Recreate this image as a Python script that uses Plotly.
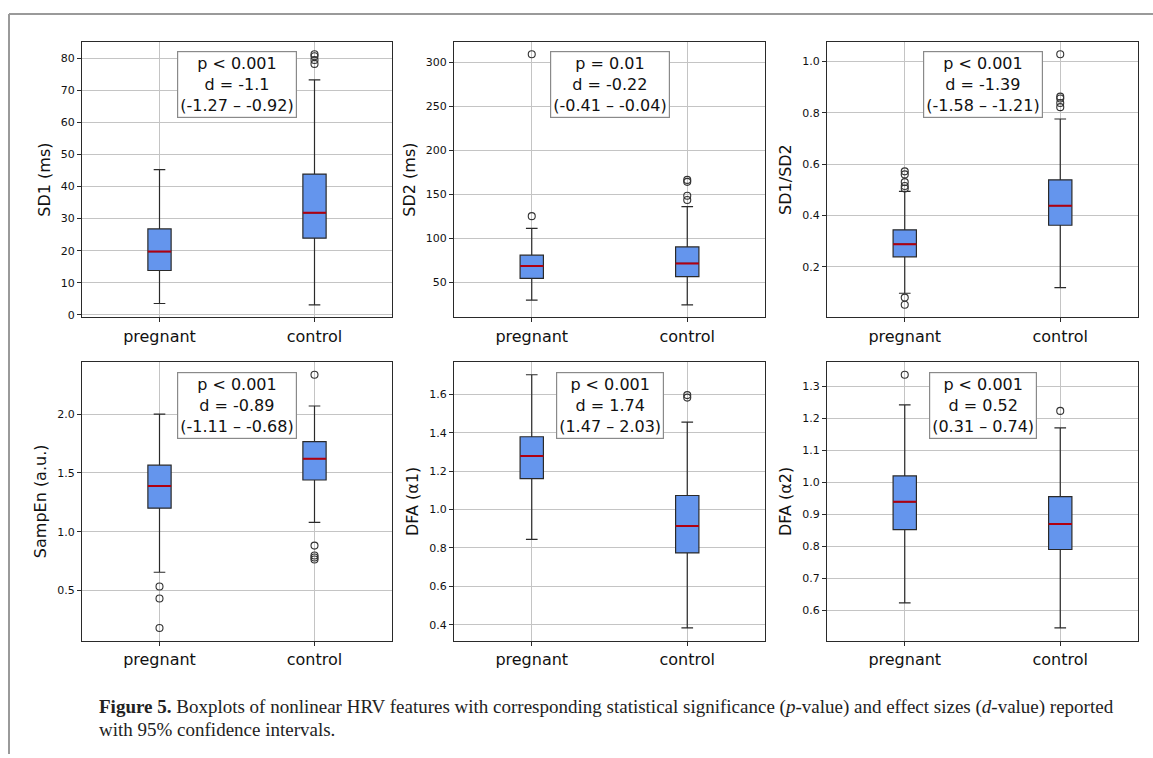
import plotly.graph_objects as go

W, H = 1153, 758

categories = ["pregnant", "control"]
y_titles = ["SD1 (ms)", "SD2 (ms)", "SD1/SD2", "SampEn (a.u.)", "DFA (α1)", "DFA (α2)"]

# box statistics per group: [lower whisker, q1, median, q3, upper whisker]
sd1_pregnant = [3.5, 13.8, 19.7, 26.8, 45.3]
sd1_control = [3.1, 23.9, 31.8, 43.9, 73.3]
sd1_out_pregnant = []
sd1_out_control = [78.3, 79.5, 80.7, 81.3]

sd2_pregnant = [30.1, 54.9, 68.8, 81.2, 111.6]
sd2_control = [24.8, 56.8, 71.8, 90.5, 136.3]
sd2_out_pregnant = [125.5, 309.4]
sd2_out_control = [143.8, 148.7, 164.5, 166.7]

ratio_pregnant = [0.097, 0.239, 0.288, 0.344, 0.494]
ratio_control = [0.119, 0.362, 0.438, 0.539, 0.776]
ratio_out_pregnant = [0.052, 0.080, 0.505, 0.515, 0.530, 0.560, 0.572]
ratio_out_control = [0.822, 0.838, 0.856, 0.863, 1.028]

sampen_pregnant = [0.655, 1.200, 1.389, 1.566, 2.000]
sampen_control = [1.079, 1.440, 1.622, 1.766, 2.070]
sampen_out_pregnant = [0.181, 0.432, 0.534]
sampen_out_control = [0.763, 0.780, 0.797, 0.882, 2.336]

dfa1_pregnant = [0.844, 1.161, 1.279, 1.379, 1.702]
dfa1_control = [0.383, 0.774, 0.914, 1.073, 1.455]
dfa1_out_pregnant = []
dfa1_out_control = [1.583, 1.596]

dfa2_pregnant = [0.623, 0.852, 0.939, 1.020, 1.242]
dfa2_control = [0.545, 0.790, 0.870, 0.955, 1.170]
dfa2_out_pregnant = [1.336]
dfa2_out_control = [1.223]

stat_texts = [
    "p &lt; 0.001<br>d = -1.1<br>(-1.27 – -0.92)",
    "p = 0.01<br>d = -0.22<br>(-0.41 – -0.04)",
    "p &lt; 0.001<br>d = -1.39<br>(-1.58 – -1.21)",
    "p &lt; 0.001<br>d = -0.89<br>(-1.11 – -0.68)",
    "p &lt; 0.001<br>d = 1.74<br>(1.47 – 2.03)",
    "p &lt; 0.001<br>d = 0.52<br>(0.31 – 0.74)",
]

y_dticks = [10, 50, 0.2, 0.5, 0.2, 0.1]
y_formats = ["d", "d", ".1f", ".1f", ".1f", ".1f"]

panels = [
    (sd1_pregnant, sd1_control, sd1_out_pregnant, sd1_out_control),
    (sd2_pregnant, sd2_control, sd2_out_pregnant, sd2_out_control),
    (ratio_pregnant, ratio_control, ratio_out_pregnant, ratio_out_control),
    (sampen_pregnant, sampen_control, sampen_out_pregnant, sampen_out_control),
    (dfa1_pregnant, dfa1_control, dfa1_out_pregnant, dfa1_out_control),
    (dfa2_pregnant, dfa2_control, dfa2_out_pregnant, dfa2_out_control),
]

caption_line1 = ("<b>Figure 5.</b> Boxplots of nonlinear HRV features with corresponding statistical "
                 "significance (<i>p</i>-value) and effect sizes (<i>d</i>-value) reported")
caption_line2 = "with 95% confidence intervals."

# layout geometry (pixels)
col_x = [(82, 392), (454, 765), (827, 1138)]
row_y = [(42, 319), (364, 644)]

FONT = "DejaVu Sans"
BOX_FILL = "#6495ED"
MEDIAN = "#b00010"
EDGE = "#2a2a2a"
GRID = "#c4c4c4"

fig = go.Figure()
layout = dict(
    width=W, height=H, margin=dict(l=0, r=0, t=0, b=0),
    paper_bgcolor="white", plot_bgcolor="white",
    showlegend=False, boxmode="overlay",
    font=dict(family=FONT, color="#111"),
)
annotations = []

for i, (preg, ctrl, out_p, out_c) in enumerate(panels):
    n = i + 1
    xa = "x" if n == 1 else f"x{n}"
    ya = "y" if n == 1 else f"y{n}"
    r, c = divmod(i, 3)
    x0, x1 = col_x[c]
    y0, y1 = row_y[r]

    stats = [preg, ctrl]
    fig.add_trace(go.Box(
        x=categories,
        lowerfence=[s[0] for s in stats],
        q1=[s[1] for s in stats],
        median=[s[2] for s in stats],
        q3=[s[3] for s in stats],
        upperfence=[s[4] for s in stats],
        width=0.15, whiskerwidth=0.5,
        fillcolor=BOX_FILL, line=dict(color=EDGE, width=1.2),
        xaxis=xa, yaxis=ya, hoverinfo="skip",
    ))
    med = [s[2] for s in stats]
    fig.add_trace(go.Box(
        x=categories, lowerfence=med, q1=med, median=med, q3=med, upperfence=med,
        width=0.15, whiskerwidth=0,
        fillcolor="rgba(0,0,0,0)", line=dict(color=MEDIAN, width=2),
        xaxis=xa, yaxis=ya, hoverinfo="skip",
    ))
    ox = [categories[0]] * len(out_p) + [categories[1]] * len(out_c)
    oy = list(out_p) + list(out_c)
    fig.add_trace(go.Scatter(
        x=ox, y=oy, mode="markers",
        marker=dict(symbol="circle-open", size=7, color="#333", line=dict(width=1.1)),
        xaxis=xa, yaxis=ya, hoverinfo="skip",
    ))

    allv = list(preg) + list(ctrl) + oy
    lo, hi = min(allv), max(allv)
    pad = 0.05 * (hi - lo)

    axis_common = dict(
        showline=True, mirror=True, linecolor=EDGE, linewidth=1.2,
        showgrid=True, gridcolor=GRID, gridwidth=1,
        ticks="outside", ticklen=4, tickcolor=EDGE, zeroline=False,
    )
    layout["xaxis" if n == 1 else f"xaxis{n}"] = dict(
        domain=[x0 / W, x1 / W], anchor=ya,
        type="category", categoryorder="array", categoryarray=categories,
        range=[-0.5, 1.5], tickfont=dict(size=16, family=FONT, color="#111"),
        **axis_common,
    )
    layout["yaxis" if n == 1 else f"yaxis{n}"] = dict(
        domain=[1 - y1 / H, 1 - y0 / H], anchor=xa,
        range=[lo - pad, hi + pad], dtick=y_dticks[i], tick0=0,
        tickformat=y_formats[i],
        tickfont=dict(size=11, family=FONT, color="#111"),
        title=dict(text=y_titles[i], font=dict(size=16, family=FONT, color="#111"), standoff=6),
        **axis_common,
    )
    annotations.append(dict(
        text=stat_texts[i], xref=f"{xa} domain", yref=f"{ya} domain",
        x=0.5, y=0.965, xanchor="center", yanchor="top", showarrow=False,
        font=dict(size=16, family=FONT, color="#111"), align="center",
        bgcolor="white", bordercolor="#8a8a8a", borderwidth=1.2, borderpad=2,
    ))

for txt, yc in ((caption_line1, 711), (caption_line2, 733)):
    annotations.append(dict(
        text=txt, xref="paper", yref="paper", x=97 / W, y=1 - yc / H,
        xanchor="left", yanchor="middle", align="left", showarrow=False,
        font=dict(size=19, family="Liberation Serif", color="#222"),
    ))
layout["annotations"] = annotations
layout["shapes"] = [
    dict(type="line", xref="paper", yref="paper", x0=9 / W, x1=1, y0=1 - 14 / H, y1=1 - 14 / H,
         line=dict(color="#9a9a9a", width=2)),
    dict(type="line", xref="paper", yref="paper", x0=9 / W, x1=9 / W, y0=0, y1=1 - 14 / H,
         line=dict(color="#9a9a9a", width=2)),
]
fig.update_layout(**layout)
fig.write_html("out.html", config={"displayModeBar": False},
               post_script="document.body.style.margin='0';")
